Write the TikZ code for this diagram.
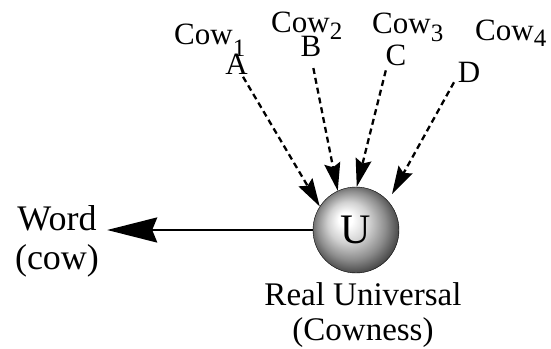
\documentclass[tikz,border=0pt]{standalone}
\usepackage{fontspec}
\setmainfont{Liberation Serif}
\usetikzlibrary{arrows.meta,shadings}
\pgfdeclareradialshading{myball}{\pgfpoint{-7bp}{7bp}}{%
  color(0bp)=(white); color(4bp)=(white); color(12bp)=(black!18);
  color(20bp)=(black!45); color(28bp)=(black!78); color(33bp)=(black)}
\begin{document}
\begin{tikzpicture}[x=1pt,y=-1pt,
  cowlabel/.style={anchor=base west,inner sep=0pt,font=\fontsize{31}{34}\selectfont},
  letter/.style={anchor=base,inner sep=0pt,font=\fontsize{31}{34}\selectfont},
  biglabel/.style={align=center,inner sep=0pt},
  sphere/.style={circle,minimum size=86pt,inner sep=0pt,shading=myball,draw=black,thin},
  dasharrow/.style={line width=2.3pt,dash pattern=on 6pt off 4pt,
    -{Stealth[length=28pt,width=16pt,inset=4pt]}},
  mainarrow/.style={line width=2.5pt,-{Stealth[length=50pt,width=25pt,inset=5pt]}}
]
\useasboundingbox (0,0) rectangle (551,348);
\newcommand{\mysub}[2]{\raisebox{-#1pt}{\fontsize{25}{25}\selectfont #2}}
% labels
\node[cowlabel] (cow1) at (174,44) {Cow\mysub{12}{1}};
\node[cowlabel] (cow2) at (271,32) {Cow\mysub{7}{2}};
\node[cowlabel] (cow3) at (372,33) {Cow\mysub{8}{3}};
\node[cowlabel] (cow4) at (475,40) {Cow\mysub{6}{4}};
\node[letter] (A) at (236.5,74) {A};
\node[letter] (B) at (311,56) {B};
\node[letter] (C) at (396,65) {C};
\node[letter] (D) at (469,82) {D};
% sphere
\node[sphere,font=\fontsize{42}{42}\selectfont] (U) at (356,230) {U};
\node[biglabel,font=\fontsize{36}{39}\selectfont] (word) at (57,241) {Word\\(cow)};
\node[biglabel,font=\fontsize{33}{35}\selectfont] (real) at (363,315) {Real Universal\\(Cowness)};
% connectors
\draw[dasharrow,shorten <=3pt] ([xshift=5pt]A.south) -- (U.147);
\draw[dasharrow,shorten <=12pt] (B.south) -- (U.115);
\draw[dasharrow,shorten <=5pt] ([xshift=-9pt]C.south) -- (U.89);
\draw[dasharrow,shorten >=8pt] ([xshift=-15pt]D.south) -- (U.42);
\draw[mainarrow,shorten >=8pt] (U.west) -- (U.west -| word.east);
\end{tikzpicture}
\end{document}
